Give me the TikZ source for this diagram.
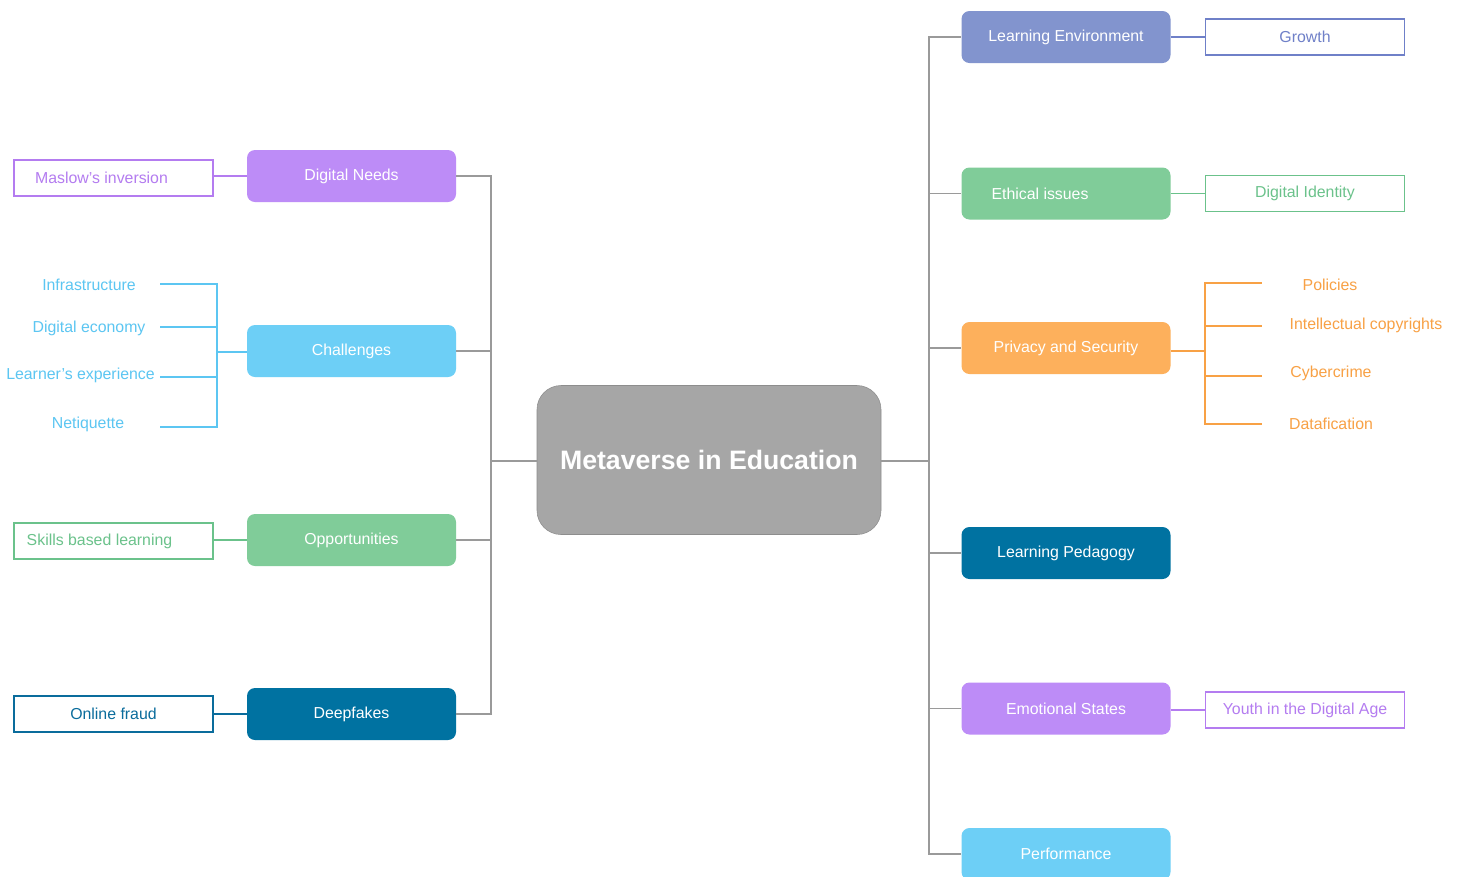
\documentclass[tikz,border=0pt]{standalone}
\usepackage{fontspec}
\setmainfont{Liberation Sans}
\definecolor{fPurple}{HTML}{BD8CF7}
\definecolor{tPurple}{HTML}{B47CF0}
\definecolor{fLBlue}{HTML}{6DCFF6}
\definecolor{tLBlue}{HTML}{5CC6F2}
\definecolor{fGreen}{HTML}{80CC99}
\definecolor{tGreen}{HTML}{6BC28B}
\definecolor{fDBlue}{HTML}{0072A1}
\definecolor{tDBlue}{HTML}{0A6C9C}
\definecolor{fPeri}{HTML}{8294CE}
\definecolor{tPeri}{HTML}{6F80C8}
\definecolor{fOrange}{HTML}{FDB05C}
\definecolor{tOrange}{HTML}{F8A145}
\definecolor{fGray}{HTML}{A6A6A6}
\definecolor{lGray}{HTML}{9A9A9A}
\begin{document}
\begin{tikzpicture}[x=0.75pt,y=-0.75pt,
  txt/.style={font=\fontsize{11.9}{14}\selectfont},
  mainbox/.style={txt, rounded corners=6pt, minimum width=156.75pt, minimum height=39pt, inner sep=0pt, text=white, fill=#1},
  leafbox/.style={txt, draw=#1, text=#1, fill=white, line width=1pt, minimum width=149.25pt, minimum height=27pt, inner sep=0pt},
  subitem/.style={txt, text=#1, inner sep=0pt},
  trunk/.style={draw=lGray, line width=1pt},
  branch/.style={draw=#1, line width=1pt}
]
\clip (0,0) rectangle (1460,876);
\fill[white] (0,0) rectangle (1460,876);

% centre
\node[rounded corners=18pt, fill=fGray, draw=fGray!85!black, line width=0.4pt, minimum width=258pt, minimum height=111.75pt, inner sep=0pt,
  text=white, font=\bfseries\fontsize{20}{24}\selectfont] (ctr) at (709,460) {Metaverse in Education};
\coordinate (tl) at (491,461);
\coordinate (tr) at (929,461);

% left main boxes
\node[mainbox=fPurple] (dn) at (351.5,176) {Digital Needs};
\node[mainbox=fLBlue] (ch) at (351.5,351) {Challenges};
\node[mainbox=fGreen] (op) at (351.5,540) {Opportunities};
\node[mainbox=fDBlue] (df) at (351.5,714) {Deepfakes};

% left leaves
\node[leafbox=tPurple] (ml) at (113.5,178) {Maslow's inversion\kern18pt};
\node[leafbox=tGreen] (sb) at (113.5,541) {Skills based learning\kern21pt};
\node[leafbox=tDBlue] (of) at (113.5,714) {Online fraud};

% challenges sub items
\node[subitem=tLBlue] (inf) at (89,285) {Infrastructure};
\node[subitem=tLBlue] (dec) at (89,328) {Digital economy};
\node[subitem=tLBlue] (lex) at (80.5,375) {Learner's experience};
\node[subitem=tLBlue] (net) at (88,424) {Netiquette};
\coordinate (cj) at (217,352);
\coordinate (c1) at (160,284);
\coordinate (c2) at (160,327);
\coordinate (c3) at (160,377);
\coordinate (c4) at (160,427);

% right main boxes
\node[mainbox=fPeri] (le) at (1066,37) {Learning Environment};
\node[mainbox=fGreen] (ei) at (1066,193.5) {Ethical issues\kern39pt};
\node[mainbox=fOrange] (ps) at (1066,348) {Privacy and Security};
\node[mainbox=fDBlue] (lp) at (1066,553) {Learning Pedagogy};
\node[mainbox=fPurple] (es) at (1066,708.5) {Emotional States};
\node[mainbox=fLBlue] (pf) at (1066,854) {Performance};

% right leaves
\node[leafbox=tPeri] (gr) at (1305,37) {Growth};
\node[leafbox=tGreen] (di) at (1305,193.5) {Digital Identity};
\node[leafbox=tPurple] (yd) at (1305,710) {Youth in the Digital Age};

% privacy sub items
\node[subitem=tOrange] (pol) at (1330,285) {Policies};
\node[subitem=tOrange] (ic) at (1366,325) {Intellectual copyrights};
\node[subitem=tOrange] (cc) at (1331,373) {Cybercrime};
\node[subitem=tOrange] (dat) at (1331,424) {Datafication};
\coordinate (pj) at (1205,351);
\coordinate (p1) at (1262,283);
\coordinate (p2) at (1262,326);
\coordinate (p3) at (1262,376);
\coordinate (p4) at (1262,424);

% trunks
\draw[trunk] (ctr.west |- tl) -- (tl);
\draw[trunk] (tl) |- (dn.east);
\draw[trunk] (tl) |- (ch.east);
\draw[trunk] (tl) |- (op.east);
\draw[trunk] (tl) |- (df.east);
\draw[trunk] (ctr.east |- tr) -- (tr);
\draw[trunk] (tr) |- (le.west);
\draw[trunk] (tr) |- (ei.west);
\draw[trunk] (tr) |- (ps.west);
\draw[trunk] (tr) |- (lp.west);
\draw[trunk] (tr) |- (es.west);
\draw[trunk] (tr) |- (pf.west);

% left branches
\draw[branch=tPurple] (dn.west) -- (dn.west -| ml.east);
\draw[branch=tGreen] (op.west) -- (op.west -| sb.east);
\draw[branch=tDBlue] (df.west) -- (of.east);
\draw[branch=tLBlue] (ch.west |- cj) -- (cj);
\draw[branch=tLBlue] (cj) |- (c1);
\draw[branch=tLBlue] (cj) |- (c2);
\draw[branch=tLBlue] (cj) |- (c3);
\draw[branch=tLBlue] (cj) |- (c4);

% right branches
\draw[branch=tPeri] (le.east) -- (gr.west);
\draw[branch=tGreen] (ei.east) -- (di.west);
\draw[branch=tPurple] (es.east |- yd) -- (yd.west);
\draw[branch=tOrange] (ps.east |- pj) -- (pj);
\draw[branch=tOrange] (pj) |- (p1);
\draw[branch=tOrange] (pj) |- (p2);
\draw[branch=tOrange] (pj) |- (p3);
\draw[branch=tOrange] (pj) |- (p4);
\end{tikzpicture}
\end{document}
